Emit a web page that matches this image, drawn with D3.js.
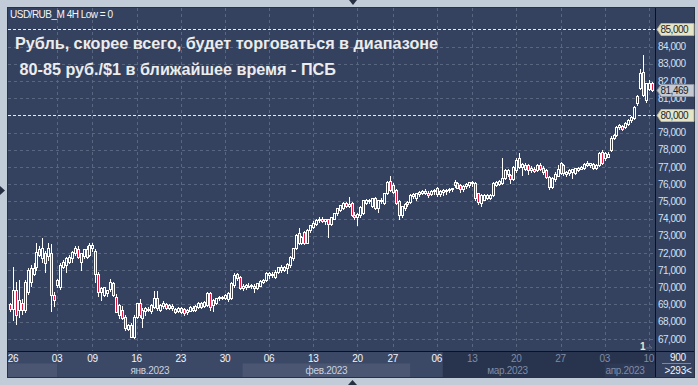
<!DOCTYPE html>
<html>
<head>
<meta charset="utf-8">
<script src="https://cdn.jsdelivr.net/npm/d3@7"></script>
<style>
html, body { margin: 0; padding: 0; background: #c2ccd8; }
svg { display: block; font-family: "Liberation Sans", Arial, sans-serif; }
</style>
</head>
<body>
<div id="chart"></div>
<script>
// USD/RUB_M 4H candles, 3 bars per trading day, 26.12.2022 - 10.04.2023
// [open, high, low, close]
var ohlc = [
  [69.00,69.10,68.65,68.72],[68.75,71.20,68.10,69.85],[69.84,70.30,67.86,68.39],
  [68.68,70.40,68.30,69.26],[69.10,69.30,68.45,68.68],[68.70,70.40,68.55,70.30],
  [69.74,71.10,69.60,71.00],[70.30,71.30,70.10,71.10],[70.80,71.40,70.70,71.10],
  [71.20,72.55,71.00,72.07],[72.20,72.40,71.80,71.90],[71.68,72.85,71.50,72.26],
  [72.00,72.10,70.90,71.40],[71.80,72.55,71.60,72.26],[71.97,72.50,68.60,69.55],
  [69.55,69.70,68.90,69.26],[70.15,70.50,70.00,70.40],[70.00,71.40,69.90,71.30],
  [71.20,71.60,71.10,71.50],[71.30,71.75,70.90,71.68],[71.50,71.90,71.40,71.78],
  [71.70,72.10,71.50,72.07],[71.97,72.40,71.90,72.26],[72.20,72.40,71.70,71.78],
  [71.50,72.00,71.00,71.97],[71.80,72.20,71.70,72.20],[72.20,72.40,71.70,71.75],
  [71.90,72.55,71.80,72.46],[72.30,72.55,72.10,72.46],[72.10,72.20,70.30,70.80],
  [70.80,70.90,69.50,69.70],[69.70,70.00,69.26,69.95],[69.55,70.00,69.50,70.00],
  [69.65,69.85,69.50,69.84],[69.90,70.50,69.80,70.33],[70.23,70.30,69.50,69.55],
  [69.45,69.60,68.55,68.58],[68.40,69.00,68.20,68.97],[68.70,68.90,68.15,68.20],
  [68.29,68.40,67.50,67.61],[67.60,67.85,67.50,67.80],[67.80,67.90,67.09,67.13],
  [67.13,68.40,67.05,68.29],[68.30,69.10,68.20,69.07],[69.10,69.30,68.30,68.40],
  [68.20,68.80,67.70,68.68],[68.60,68.85,68.40,68.78],[68.75,68.85,68.60,68.68],
  [68.60,69.00,68.50,68.97],[68.87,69.80,68.80,69.35],[69.35,69.78,68.70,68.80],
  [68.70,69.00,68.65,68.95],[68.90,69.20,68.80,69.07],[69.00,69.10,68.75,68.82],
  [68.82,69.00,68.75,68.95],[68.90,69.00,68.70,68.80],[68.72,68.80,68.50,68.58],
  [68.60,68.85,68.55,68.80],[68.78,68.85,68.50,68.58],[68.75,68.80,68.40,68.50],
  [68.55,68.75,68.45,68.70],[68.65,68.90,68.60,68.85],[68.82,68.90,68.60,68.68],
  [68.70,68.95,68.65,68.90],[68.85,69.15,68.80,69.07],[69.07,69.15,68.80,68.85],
  [68.90,69.20,68.85,69.17],[68.97,69.75,68.90,69.69],[69.65,69.70,68.70,68.88],
  [68.97,69.30,68.60,69.26],[69.10,69.40,69.05,69.36],[69.40,69.50,69.25,69.45],
  [69.45,69.50,69.30,69.35],[69.36,69.60,69.30,69.55],[69.30,69.70,69.20,69.65],
  [69.36,70.30,69.30,70.23],[70.13,70.81,70.00,70.72],[70.76,70.85,70.40,70.55],
  [70.60,70.65,69.90,69.94],[69.94,70.20,69.85,70.10],[70.00,70.20,69.90,70.15],
  [70.10,70.25,70.00,70.05],[70.05,70.20,69.95,70.15],[70.10,70.20,69.75,69.95],
  [69.95,70.25,69.90,70.23],[70.10,70.45,70.05,70.38],[70.30,70.50,70.25,70.45],
  [70.42,70.90,70.35,70.81],[70.70,70.90,70.55,70.85],[70.80,70.90,70.60,70.70],
  [70.60,71.00,70.55,70.90],[70.90,71.20,70.85,71.16],[71.20,71.30,70.90,71.00],
  [71.00,71.25,70.95,71.20],[71.10,71.40,70.85,71.35],[71.30,71.80,71.20,71.78],
  [71.70,72.30,71.60,72.27],[72.30,73.10,72.20,73.04],[73.14,73.43,72.50,72.56],
  [72.60,73.00,72.50,72.95],[73.20,73.30,72.50,72.56],[72.60,73.40,72.55,73.33],
  [73.33,73.65,73.20,73.62],[73.50,73.85,73.45,73.75],[73.70,73.95,73.65,73.90],
  [73.90,74.10,73.80,74.00],[74.00,74.10,73.80,73.85],[73.85,74.00,73.70,73.95],
  [73.95,74.00,72.95,73.70],[73.70,74.10,73.60,74.10],[74.00,74.30,73.95,74.30],
  [74.30,74.60,74.20,74.59],[74.50,74.80,74.45,74.78],[74.60,74.95,74.55,74.88],
  [74.88,74.95,74.65,74.70],[74.70,75.27,74.65,74.85],[74.88,74.95,74.15,74.20],
  [74.20,74.35,74.00,74.10],[74.10,74.30,73.60,74.25],[74.20,74.70,74.10,74.68],
  [74.30,75.10,74.25,75.08],[74.90,75.15,74.85,75.08],[75.05,75.15,74.90,75.00],
  [74.70,75.20,74.65,75.17],[75.17,75.25,74.55,74.60],[74.60,75.10,74.40,75.05],
  [75.00,75.20,74.90,75.10],[74.90,75.50,74.85,75.46],[75.46,76.20,75.40,76.14],
  [76.20,76.45,75.60,75.66],[75.95,76.05,75.50,75.56],[75.66,75.70,74.85,74.88],
  [75.00,75.10,74.00,74.20],[74.20,74.75,74.10,74.70],[74.60,74.90,74.50,74.85],
  [74.85,75.00,74.75,74.98],[74.98,75.40,74.90,75.37],[75.30,75.50,75.20,75.45],
  [75.20,75.50,75.10,75.47],[75.40,75.60,75.30,75.55],[75.50,75.65,75.40,75.60],
  [75.60,75.70,75.45,75.50],[75.50,75.60,75.23,75.35],[75.40,75.65,75.35,75.60],
  [75.60,75.70,75.40,75.65],[75.75,75.85,75.30,75.40],[75.40,75.65,75.30,75.60],
  [75.55,75.70,75.35,75.65],[75.60,75.70,75.45,75.65],[75.65,75.80,75.55,75.70],
  [75.70,75.80,75.60,75.75],[76.14,76.25,75.85,75.95],[76.05,76.15,75.75,75.80],
  [75.95,76.00,75.55,75.70],[75.70,75.95,75.60,75.90],[75.90,76.05,75.80,76.00],
  [75.95,76.15,75.85,76.10],[76.05,76.20,75.90,76.15],[76.05,76.10,75.10,75.18],
  [75.47,75.50,74.85,74.98],[74.88,75.40,74.73,75.37],[75.10,75.40,75.05,75.35],
  [75.20,75.40,75.15,75.37],[75.20,75.45,75.15,75.37],[75.37,76.10,75.30,76.05],
  [75.95,76.20,75.90,76.14],[76.00,76.25,75.95,76.20],[76.05,77.50,76.00,76.35],
  [76.35,76.90,76.30,76.82],[76.60,76.85,76.50,76.82],[76.53,76.60,76.05,76.30],
  [76.30,77.05,76.25,77.00],[76.82,77.50,76.70,77.40],[77.50,77.79,76.95,77.00],
  [77.00,77.20,76.53,77.15],[77.10,77.20,76.80,76.85],[77.10,77.15,76.60,76.80],
  [76.80,77.05,76.70,76.95],[76.90,77.00,76.70,76.75],[76.80,77.15,76.75,77.10],
  [77.10,77.20,76.80,76.85],[76.95,77.05,76.60,76.70],[76.80,76.85,76.35,76.43],
  [76.43,76.50,75.70,75.85],[75.85,76.40,75.75,76.35],[76.30,76.70,76.20,76.60],
  [76.50,77.11,76.45,76.90],[77.20,77.30,76.60,76.65],[77.10,77.15,76.55,76.63],
  [76.60,76.75,76.50,76.70],[76.65,76.85,76.55,76.80],[76.70,76.90,76.34,76.85],
  [76.65,76.95,76.60,76.92],[76.80,77.00,76.75,76.95],[76.90,77.05,76.85,77.00],
  [76.95,77.20,76.90,77.15],[77.25,77.35,77.05,77.10],[77.10,77.25,77.00,77.20],
  [77.15,77.20,76.90,76.95],[76.95,77.15,76.90,77.10],[77.11,77.85,77.05,77.79],
  [77.89,78.00,77.15,77.21],[77.50,77.85,77.40,77.79],[77.60,77.85,77.55,77.75],
  [77.98,78.80,77.90,78.66],[78.66,78.90,78.60,78.86],[78.86,79.40,78.80,79.34],
  [79.34,79.50,79.20,79.44],[79.38,79.45,79.15,79.19],[79.30,79.60,79.25,79.54],
  [79.50,79.80,79.45,79.73],[79.73,79.95,79.60,79.90],[79.83,80.55,79.80,80.50],
  [80.70,81.20,80.60,81.10],[81.57,82.70,81.50,82.44],[82.54,83.51,81.10,81.18],
  [80.89,81.90,80.79,81.86],[81.50,82.06,81.45,81.86],[81.86,81.95,81.40,81.469]
];

// week ticks on the time axis (bar index of the day's middle bar)
var tickLabels = ['26','03','09','16','23','30','06','13','20','27','06','13','20','27','03','10'];
var tickBars   = [1, 16, 28, 43, 58, 73, 88, 103, 118, 130, 145, 157, 172, 187, 202, 217];

var monthNames = ['', 'янв.2023', 'фев.2023', 'мар.2023', 'апр.2023'];
var monthStartBars = [0, 16, 79, 136, 202];

var priceTicks = d3.range(67, 86);
var levelLines = [85, 80];
var lastPrice = 81.469;
var selectionStartBar = 147;

var titleLines = ['Рубль, скорее всего, будет торговаться в диапазоне',
                  ' 80-85 руб./$1 в ближайшее время - ПСБ'];

var W = 698, H = 385;
var pl = 8, pt = 8, pr = 655, pb = 351;   // plot box
var axR = 694, dateMid = 363.5, dateB = 377;

var bg = '#35425f', grid = '#58667f', red = '#e2173f';

var fmt = d3.formatLocale({decimal: ',', thousands: ' ', grouping: [3], currency: ['', '']}).format('.3f');

var x = d3.scaleLinear().domain([0, ohlc.length - 1]).range([10, 651.8]);
var y = d3.scaleLinear().domain([67, 85]).range([338.9, 29.3]);

var svg = d3.select('#chart').append('svg')
  .attr('width', W).attr('height', H);

svg.append('rect').attr('width', W).attr('height', H).attr('fill', '#c2ccd8');
svg.append('rect').attr('x', pl).attr('y', pt).attr('width', axR - pl).attr('height', dateB - pt).attr('fill', bg);

//////////////////////////////////////////////////////
// DATE AXIS
//////////////////////////////////////////////////////
var dateArea = svg.append('g');
dateArea.append('rect').attr('x', pl).attr('y', pb).attr('width', pr - pl).attr('height', dateB - pb).attr('fill', '#3c4966');

monthStartBars.forEach(function(b, i) {
  var x0 = i == 0 ? pl : x(b);
  var x1 = i < monthStartBars.length - 1 ? x(monthStartBars[i + 1]) : pr;
  dateArea.append('rect')
    .attr('x', x0).attr('y', dateMid).attr('width', x1 - x0).attr('height', dateB - dateMid)
    .attr('fill', i % 2 == 0 ? '#4a5672' : '#3c4966');
});

// dimmed part at the right end
var selX = x(selectionStartBar);
dateArea.append('rect').attr('x', selX).attr('y', pb).attr('width', pr - selX).attr('height', dateB - pb).attr('fill', '#28334d');
dateArea.append('rect').attr('x', x(monthStartBars[4])).attr('y', dateMid).attr('width', pr - x(monthStartBars[4])).attr('height', dateB - dateMid).attr('fill', '#2e3955');

dateArea.selectAll('.tickText')
  .data(tickLabels)
  .enter().append('text')
  .attr('x', function(d, i) { return x(tickBars[i]); })
  .attr('y', 361.5)
  .attr('text-anchor', 'middle')
  .attr('font-size', 10)
  .attr('letter-spacing', -0.3)
  .attr('fill', function(d, i) { return x(tickBars[i]) > selX ? '#7f8ca6' : '#f2f4f8'; })
  .text(function(d) { return d; });

monthNames.forEach(function(m, i) {
  if (!m) return;
  var x0 = x(monthStartBars[i]);
  var x1 = i < monthStartBars.length - 1 ? x(monthStartBars[i + 1]) : pr;
  var cx = (x0 + x1) / 2;
  dateArea.append('text')
    .attr('x', Math.min(cx, pr - 30)).attr('y', 373.5)
    .attr('text-anchor', 'middle')
    .attr('font-size', 10)
    .attr('letter-spacing', -0.3)
    .attr('fill', cx > selX ? '#7f8ca6' : '#c9d2e0')
    .text(m);
});

//////////////////////////////////////////////////////
// GRID
//////////////////////////////////////////////////////
var gridG = svg.append('g');
gridG.selectAll('.hgrid')
  .data(priceTicks.filter(function(v) { return levelLines.indexOf(v) < 0; }))
  .enter().append('line')
  .attr('x1', pl).attr('x2', pr)
  .attr('y1', function(d) { return Math.round(y(d)) + 0.5; })
  .attr('y2', function(d) { return Math.round(y(d)) + 0.5; })
  .attr('stroke', grid).attr('stroke-dasharray', '3,3');

gridG.selectAll('.vgrid')
  .data(tickBars.slice(1))
  .enter().append('line')
  .attr('x1', function(d) { return Math.round(x(d)) + 0.5; })
  .attr('x2', function(d) { return Math.round(x(d)) + 0.5; })
  .attr('y1', pt).attr('y2', pb)
  .attr('stroke', grid).attr('stroke-dasharray', '3,3');

gridG.selectAll('.level')
  .data(levelLines)
  .enter().append('line')
  .attr('x1', pl).attr('x2', pr)
  .attr('y1', function(d) { return Math.round(y(d)) + 0.5; })
  .attr('y2', function(d) { return Math.round(y(d)) + 0.5; })
  .attr('stroke', '#e8eaee').attr('stroke-dasharray', '3,2');

//////////////////////////////////////////////////////
// CANDLES
//////////////////////////////////////////////////////
var candles = svg.append('g').selectAll('.candle')
  .data(ohlc)
  .enter().append('g');

candles.append('line')
  .attr('x1', function(d, i) { return Math.round(x(i)) + 0.5; })
  .attr('x2', function(d, i) { return Math.round(x(i)) + 0.5; })
  .attr('y1', function(d) { return Math.round(y(d[1])); })
  .attr('y2', function(d) { return Math.round(y(d[2])) + 1; })
  .attr('stroke', '#ffffff');

candles.append('rect')
  .attr('x', function(d, i) { return Math.round(x(i)) - 0.5; })
  .attr('y', function(d) { return Math.round(y(Math.max(d[0], d[3]))) + 0.5; })
  .attr('width', 2)
  .attr('height', function(d) {
    return Math.max(1, Math.round(y(Math.min(d[0], d[3]))) - Math.round(y(Math.max(d[0], d[3]))));
  })
  .attr('fill', function(d) { return d[3] < d[0] ? red : bg; })
  .attr('stroke', '#ffffff');

//////////////////////////////////////////////////////
// FRAME LINES
//////////////////////////////////////////////////////
svg.append('line').attr('x1', pr + 0.5).attr('x2', pr + 0.5).attr('y1', pt).attr('y2', dateB).attr('stroke', '#0d1118');
svg.append('line').attr('x1', pl).attr('x2', axR).attr('y1', pb + 0.5).attr('y2', pb + 0.5).attr('stroke', '#0d1118');
svg.append('rect').attr('x', pl - 0.5).attr('y', pt - 0.5).attr('width', axR - pl + 1).attr('height', dateB - pt + 1)
  .attr('fill', 'none').attr('stroke', '#2a3142');

//////////////////////////////////////////////////////
// PRICE AXIS
//////////////////////////////////////////////////////
var axisG = svg.append('g');
axisG.selectAll('.ptext')
  .data(priceTicks.filter(function(v) { return levelLines.indexOf(v) < 0; }))
  .enter().append('text')
  .attr('x', 658)
  .attr('y', function(d) { return y(d) + 3.6; })
  .attr('font-size', 10)
  .attr('letter-spacing', -0.5)
  .attr('fill', '#d3e0f2')
  .text(function(d) { return fmt(d); });

function priceBox(v, fill, stroke) {
  var yc = Math.round(y(v)) + 0.5;
  axisG.append('path')
    .attr('d', 'M657,' + yc + ' L661,' + (yc - 6) + ' L694,' + (yc - 6) + ' L694,' + (yc + 6) + ' L661,' + (yc + 6) + ' Z')
    .attr('fill', fill).attr('stroke', stroke);
  axisG.append('text')
    .attr('x', 660.5).attr('y', yc + 3.6)
    .attr('font-size', 10).attr('letter-spacing', -0.5)
    .attr('fill', '#1c1f26')
    .text(fmt(v));
}
levelLines.forEach(function(v) { priceBox(v, '#e7e5c7', '#b4b296'); });
priceBox(lastPrice, '#c4c9d2', '#8b92a2');

// bottom right box
axisG.append('text').attr('x', 678).attr('y', 361).attr('text-anchor', 'middle')
  .attr('font-size', 10).attr('letter-spacing', -0.3).attr('fill', '#f2f4f8').text('900');
axisG.append('line').attr('x1', 662).attr('x2', 691).attr('y1', 363.5).attr('y2', 363.5).attr('stroke', '#7d879c');
axisG.append('text').attr('x', 678).attr('y', 374).attr('text-anchor', 'middle')
  .attr('font-size', 10).attr('letter-spacing', -0.3).attr('fill', '#f2f4f8').text('>293<');

//////////////////////////////////////////////////////
// TEXTS
//////////////////////////////////////////////////////
svg.append('text').attr('x', 10).attr('y', 17.5)
  .attr('font-size', 10).attr('letter-spacing', -0.5).attr('fill', '#f4f5f8')
  .text('USD/RUB_M 4H Low = 0');

svg.selectAll('.title')
  .data(titleLines)
  .enter().append('text')
  .attr('x', 15)
  .attr('y', function(d, i) { return 49 + i * 26; })
  .attr('font-size', 16.2)
  .attr('font-weight', 'bold')
  .attr('fill', '#ececec')
  .attr('xml:space', 'preserve')
  .style('white-space', 'pre')
  .text(function(d) { return d; });

svg.append('text').attr('x', 640).attr('y', 349.5)
  .attr('font-size', 10).attr('font-weight', 'bold').attr('fill', '#efe6c8').text('1');
svg.append('path').attr('d', 'M646,348 L652,348 L650,346').attr('fill', 'none').attr('stroke', '#5d6a84');

// small markers on the outer frame
svg.append('path').attr('d', 'M349,0 L357,0 L353,5 Z').attr('fill', '#263042');
svg.append('path').attr('d', 'M348,385 L357,385 L352.5,380 Z').attr('fill', '#263042');
svg.append('path').attr('d', 'M0,186 L0,195 L5,190.5 Z').attr('fill', '#263042');
</script>
</body>
</html>
